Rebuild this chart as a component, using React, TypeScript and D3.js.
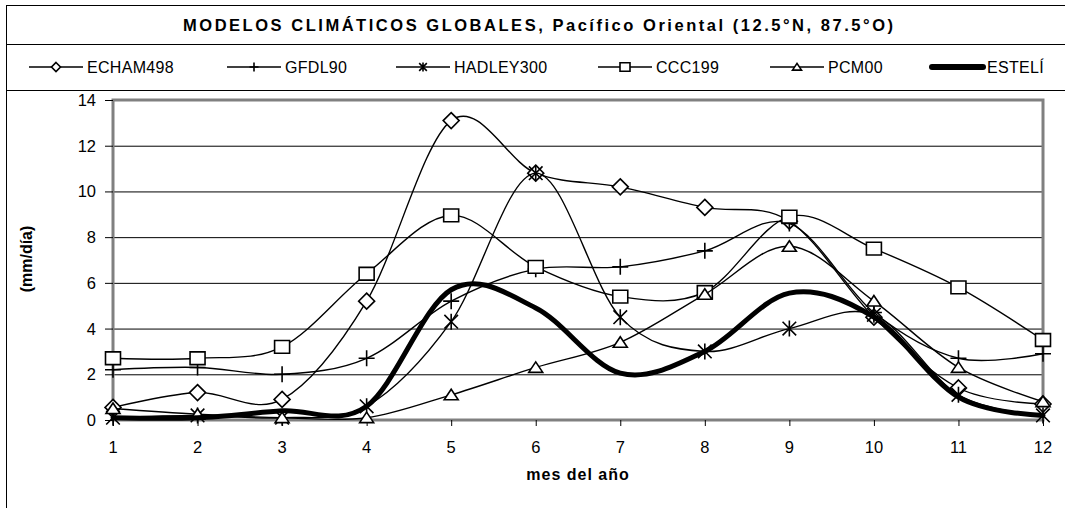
import * as d3 from 'd3'

// monthly mean precipitation (mm/día)
const MONTHS = [1, 2, 3, 4, 5, 6, 7, 8, 9, 10, 11, 12]
const ECHAM498 = [0.55, 1.2, 0.9, 5.2, 13.1, 10.8, 10.2, 9.3, 8.7, 4.5, 1.4, 0.7]
const GFDL90 = [2.2, 2.3, 2.0, 2.7, 5.2, 6.6, 6.7, 7.4, 8.6, 4.7, 2.7, 2.9]
const HADLEY300 = [0.1, 0.2, 0.1, 0.6, 4.3, 10.8, 4.5, 3.0, 4.0, 4.6, 1.1, 0.2]
const CCC199 = [2.7, 2.7, 3.2, 6.4, 8.95, 6.7, 5.4, 5.6, 8.9, 7.5, 5.8, 3.5]
const PCM00 = [0.5, 0.25, 0.1, 0.1, 1.1, 2.3, 3.4, 5.5, 7.6, 5.2, 2.3, 0.8]
const ESTELI = [0.1, 0.1, 0.4, 0.6, 5.7, 4.9, 2.05, 3.0, 5.55, 4.5, 1.0, 0.2]

const Y_TICKS = [0, 2, 4, 6, 8, 10, 12, 14]

type Marker = 'diamond' | 'plus' | 'star' | 'square' | 'triangle' | 'none'

const SERIES: { name: string; values: number[]; marker: Marker; thick?: boolean }[] = [
  { name: 'ECHAM498', values: ECHAM498, marker: 'diamond' },
  { name: 'GFDL90', values: GFDL90, marker: 'plus' },
  { name: 'HADLEY300', values: HADLEY300, marker: 'star' },
  { name: 'CCC199', values: CCC199, marker: 'square' },
  { name: 'PCM00', values: PCM00, marker: 'triangle' },
  { name: 'ESTELÍ', values: ESTELI, marker: 'none', thick: true },
]

const W = 1065
const H = 508
const PLOT = { left: 113, right: 1043, top: 100, bottom: 420 }
const LEGEND_X = [29, 227, 396, 598, 770, 929]
const FONT = '"Liberation Sans", Arial, sans-serif'

function markerPath(kind: Marker, s: number) {
  // s = half size
  switch (kind) {
    case 'diamond':
      return `M0,${-s}L${s},0L0,${s}L${-s},0Z`
    case 'square':
      return `M${-s},${-s * 0.85}H${s}V${s * 0.85}H${-s}Z`
    case 'triangle':
      return `M0,${-s * 0.8}L${s},${s * 0.7}H${-s}Z`
    case 'plus':
      return `M${-s},0H${s}M0,${-s}V${s}`
    case 'star': {
      const d = s * 0.85
      return `M${-d},${-d}L${d},${d}M${-d},${d}L${d},${-d}M0,${-s}V${s}`
    }
    default:
      return ''
  }
}

function MarkerShape({ kind, x, y, s }: { kind: Marker; x: number; y: number; s: number }) {
  if (kind === 'none') return null
  const filled = kind === 'diamond' || kind === 'square' || kind === 'triangle'
  return (
    <path
      d={markerPath(kind, s)}
      transform={`translate(${x},${y})`}
      fill={filled ? '#fff' : 'none'}
      stroke="#000"
      strokeWidth={1.6}
    />
  )
}

export default function App() {
  const x = d3.scaleLinear().domain([1, 12]).range([PLOT.left, PLOT.right])
  const y = d3.scaleLinear().domain([0, 14]).range([PLOT.bottom, PLOT.top])
  const line = d3
    .line<number>()
    .x((_, i) => x(MONTHS[i]))
    .y(d => y(d))
    .curve(d3.curveCatmullRom.alpha(0))

  const legendY = 67

  return (
    <svg width={W} height={H} style={{ position: 'absolute', left: 0, top: 0, background: '#fff' }} fontFamily={FONT}>
      <rect x={0} y={0} width={W} height={H} fill="#fff" />
      {/* outer frame + separators */}
      <rect x={6.5} y={5.5} width={W + 20} height={H + 20} fill="none" stroke="#000" strokeWidth={1} />
      <line x1={6.5} x2={W} y1={44.5} y2={44.5} stroke="#000" />
      <line x1={6.5} x2={W} y1={90.5} y2={90.5} stroke="#000" />

      {/* title */}
      <text
        x={538}
        y={31}
        textAnchor="middle"
        fontWeight="bold"
        fontSize={16.5}
        textLength={710}
        lengthAdjust="spacing"
      >
        MODELOS CLIMÁTICOS GLOBALES, Pacífico Oriental (12.5°N, 87.5°O)
      </text>

      {/* legend */}
      {SERIES.map((s, i) => {
        const x0 = LEGEND_X[i]
        return (
          <g key={s.name}>
            {s.thick ? (
              <line x1={x0 + 3} x2={x0 + 54} y1={legendY} y2={legendY} stroke="#000" strokeWidth={6} strokeLinecap="round" />
            ) : (
              <line x1={x0} x2={x0 + 54} y1={legendY} y2={legendY} stroke="#000" strokeWidth={1.6} />
            )}
            <MarkerShape kind={s.marker} x={x0 + 27} y={legendY} s={s.marker === 'square' ? 5 : 4.5} />
            <text x={x0 + 58} y={legendY + 6} fontSize={16} letterSpacing={0.3}>
              {s.name}
            </text>
          </g>
        )
      })}

      {/* gridlines */}
      {Y_TICKS.filter(t => t > 0 && t < 14).map(t => (
        <line key={t} x1={PLOT.left} x2={PLOT.right} y1={y(t) + 0.5} y2={y(t) + 0.5} stroke="#000" strokeWidth={1} />
      ))}

      {/* plot frame */}
      <rect
        x={PLOT.left}
        y={PLOT.top}
        width={PLOT.right - PLOT.left}
        height={PLOT.bottom - PLOT.top}
        fill="none"
        stroke="#808080"
        strokeWidth={3}
      />

      {/* y axis ticks and labels */}
      {Y_TICKS.map(t => (
        <g key={t}>
          <line x1={PLOT.left - 8} x2={PLOT.left} y1={y(t) + 0.5} y2={y(t) + 0.5} stroke="#000" />
          <text x={96} y={y(t) + 6} textAnchor="end" fontSize={16.5}>
            {t}
          </text>
        </g>
      ))}

      {/* x axis ticks and labels */}
      {MONTHS.map(m => (
        <g key={m}>
          <line x1={x(m) + 0.5} x2={x(m) + 0.5} y1={PLOT.bottom} y2={PLOT.bottom + 6} stroke="#000" />
          <text x={x(m)} y={453} textAnchor="middle" fontSize={16.5}>
            {m}
          </text>
        </g>
      ))}

      {/* axis titles */}
      <text x={578} y={480} textAnchor="middle" fontWeight="bold" fontSize={16} letterSpacing={1}>
        mes del año
      </text>
      <text
        transform={`translate(32,259) rotate(-90)`}
        textAnchor="middle"
        fontWeight="bold"
        fontSize={16}
      >
        (mm/día)
      </text>

      {/* series */}
      {SERIES.map(s => (
        <g key={s.name}>
          <path
            d={line(s.values) ?? ''}
            fill="none"
            stroke="#000"
            strokeWidth={s.thick ? 5 : 1.4}
            strokeLinejoin="round"
            strokeLinecap="round"
          />
          {s.values.map((v, i) => (
            <MarkerShape
              key={i}
              kind={s.marker}
              x={x(MONTHS[i])}
              y={y(v)}
              s={s.marker === 'square' ? 7.5 : s.marker === 'triangle' ? 7 : 8}
            />
          ))}
        </g>
      ))}
    </svg>
  )
}
